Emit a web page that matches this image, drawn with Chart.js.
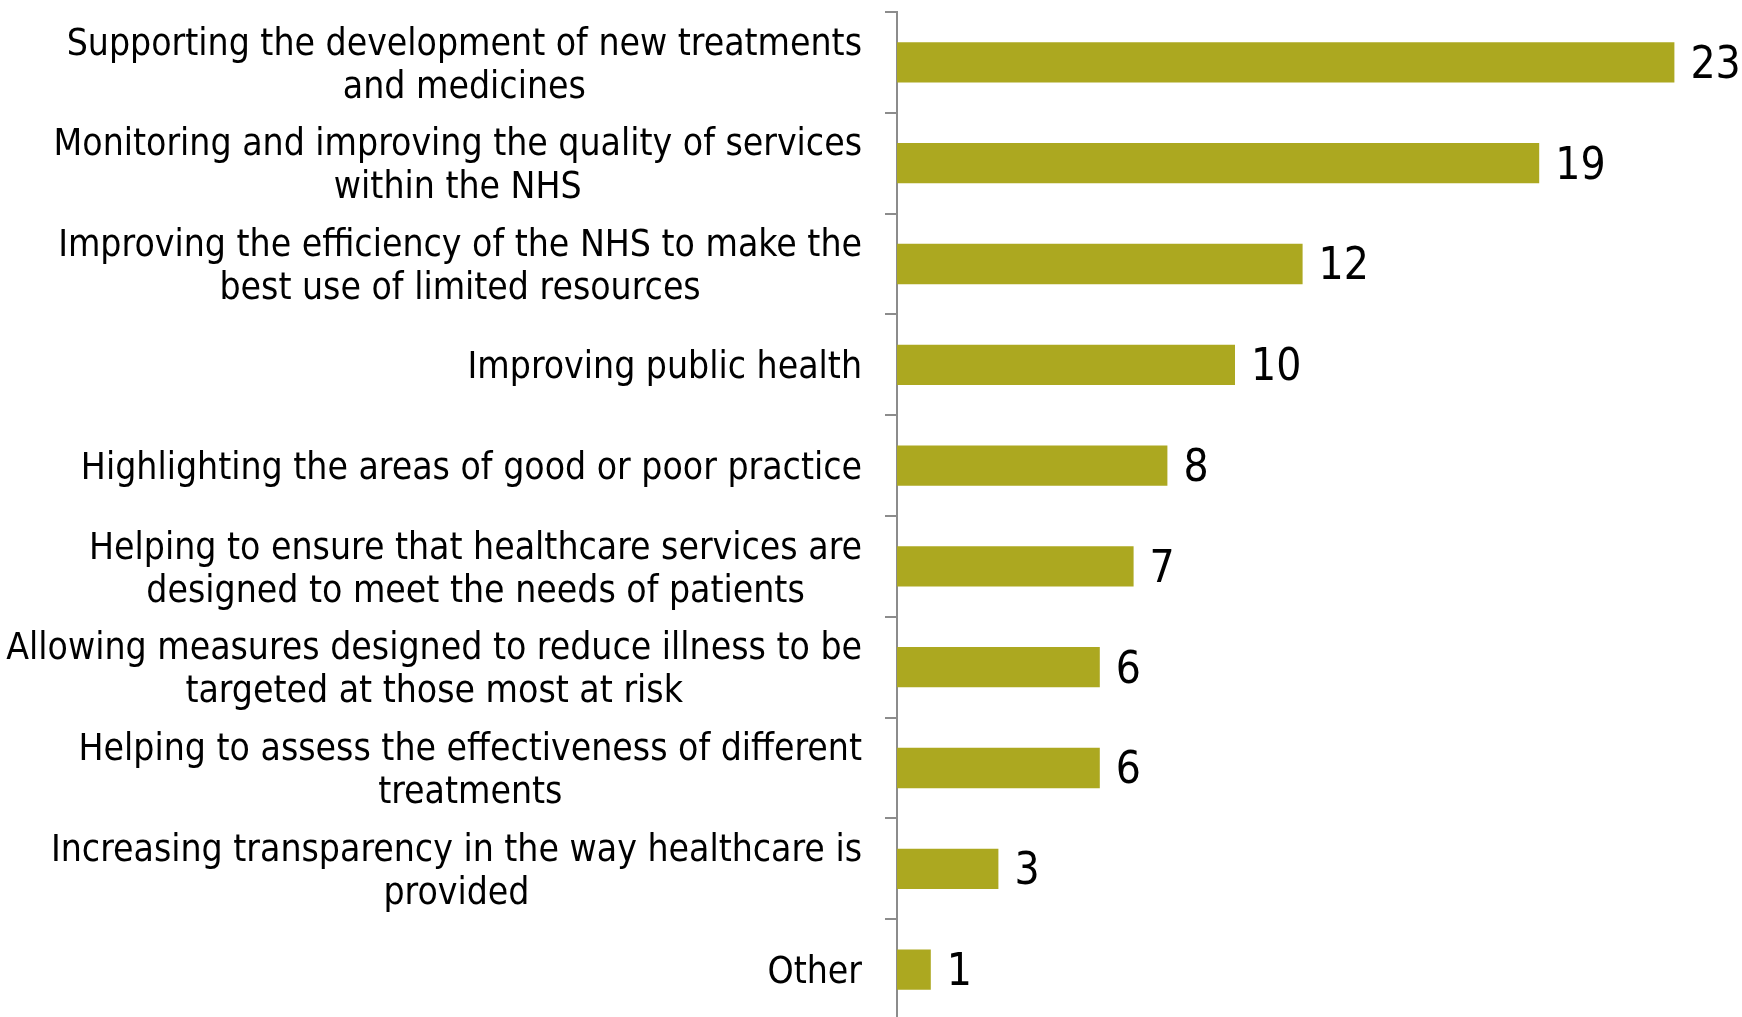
<!DOCTYPE html>
<html>
<head>
<meta charset="utf-8">
<script src="https://cdn.jsdelivr.net/npm/chart.js@4/dist/chart.umd.min.js"></script>
<style>
  html, body { margin: 0; padding: 0; background: #ffffff; overflow: hidden; }
  #wrap { width: 1742px; height: 1020px; position: relative; }
</style>
</head>
<body>
<div id="wrap"><canvas id="chart"></canvas></div>
<script>
// Response categories (wrapped onto lines as shown on the axis)
const categories = [
  ["Supporting the development of new treatments", "and medicines"],
  ["Monitoring and improving the quality of services", "within the NHS"],
  ["Improving the efficiency of the NHS to make the", "best use of limited resources"],
  ["Improving public health"],
  ["Highlighting the areas of good or poor practice"],
  ["Helping to ensure that healthcare services are", "designed to meet the needs of patients"],
  ["Allowing measures designed to reduce illness to be", "targeted at those most at risk"],
  ["Helping to assess the effectiveness of different", "treatments"],
  ["Increasing transparency in the way healthcare is", "provided"],
  ["Other"]
];
const counts = [23, 19, 12, 10, 8, 7, 6, 6, 3, 1];
const axisMax = 25;

const FONT = "'DejaVu Sans Condensed', 'DejaVu Sans', sans-serif";
const AXIS_X = 897;
const LABEL_GAP = 35;     // space between label block and axis line
const LINE_HEIGHT = 43;

// Category labels: each block right-aligned against the axis, its lines centred within the block
const categoryLabels = {
  id: 'categoryLabels',
  afterDraw(chart) {
    const ctx = chart.ctx;
    const scale = chart.scales.y;
    ctx.save();
    ctx.fillStyle = '#000000';
    ctx.font = '37px ' + FONT;
    ctx.textAlign = 'center';
    ctx.textBaseline = 'middle';
    const right = scale.right - LABEL_GAP;
    categories.forEach((lines, i) => {
      const y = scale.getPixelForTick(i) + 4;
      const w = Math.max(...lines.map(l => ctx.measureText(l).width));
      const cx = right - w / 2;
      lines.forEach((line, j) => {
        ctx.fillText(line, cx, y + (j - (lines.length - 1) / 2) * LINE_HEIGHT);
      });
    });
    ctx.restore();
  }
};

// Draws the count just past the end of each bar
const valueLabels = {
  id: 'valueLabels',
  afterDatasetsDraw(chart) {
    const ctx = chart.ctx;
    const meta = chart.getDatasetMeta(0);
    ctx.save();
    ctx.fillStyle = '#000000';
    ctx.font = '44px ' + FONT;
    ctx.textAlign = 'left';
    ctx.textBaseline = 'middle';
    meta.data.forEach((bar, i) => {
      ctx.fillText(String(counts[i]), bar.x + 16, bar.y + 4);
    });
    ctx.restore();
  }
};

new Chart(document.getElementById('chart'), {
  type: 'bar',
  data: {
    labels: categories,
    datasets: [{
      data: counts,
      backgroundColor: '#aca820',
      borderWidth: 0,
      barPercentage: 0.4,
      categoryPercentage: 1.0
    }]
  },
  options: {
    indexAxis: 'y',
    responsive: true,
    maintainAspectRatio: false,
    animation: false,
    layout: { padding: { top: 12, bottom: 0, left: 0, right: 0 } },
    plugins: {
      legend: { display: false },
      tooltip: { enabled: false }
    },
    scales: {
      x: {
        display: false,
        min: 0,
        max: axisMax
      },
      y: {
        offset: true,
        afterFit(scale) {
          scale.width = AXIS_X;
          scale.paddingTop = 0;
          scale.paddingBottom = 0;
        },
        grid: {
          offset: true,
          drawOnChartArea: false,
          drawTicks: true,
          tickLength: 12,
          color: '#8c8c8c',
          lineWidth: 2
        },
        border: { display: true, color: '#8c8c8c', width: 2 },
        ticks: {
          color: 'rgba(0,0,0,0)',
          padding: 24,
          font: { family: FONT, size: 12 },
          autoSkip: false
        }
      }
    }
  },
  plugins: [categoryLabels, valueLabels]
});
</script>
</body>
</html>
